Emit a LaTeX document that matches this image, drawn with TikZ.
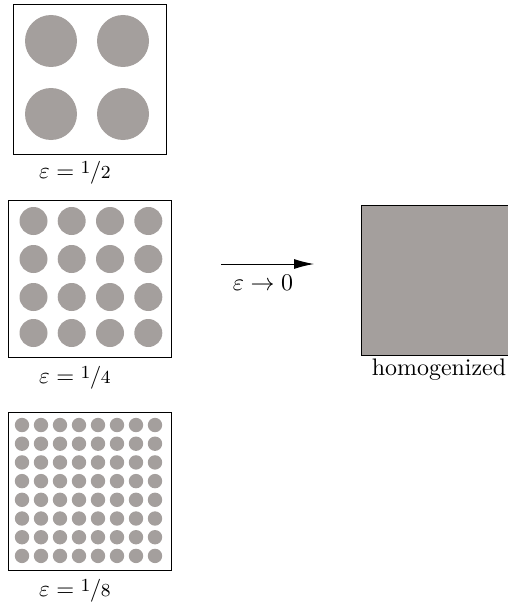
\documentclass[tikz,border=0pt]{standalone}
\usetikzlibrary{arrows.meta}
\definecolor{inclusion}{RGB}{164,159,157}
\newcommand{\myfrac}[2]{\mbox{\raisebox{0.2em}{\footnotesize #1}\kern-0.02em/\kern-0.02em{\footnotesize #2}}}
\begin{document}
\begin{tikzpicture}[x=1pt,y=-1pt,
  cell/.style={draw=black,line width=1pt},
  incl/.style={fill=inclusion},
  lab/.style={scale=2.3,transform shape,inner sep=0pt,anchor=base}]
\useasboundingbox (0,0) rectangle (507,602);
% box 1
\node[cell,minimum width=153pt,minimum height=149pt,inner sep=0pt] (b1) at (89.5,79.5) {};
\foreach \x in {51,123} \foreach \y in {41,114} \fill[incl] (\x,\y) circle (26);
\node[lab] (l1) at (75,178) {$\varepsilon = \myfrac{1}{2}$};
% box 2
\node[cell,minimum width=163pt,minimum height=157pt,inner sep=0pt] (b2) at (89.5,278.5) {};
\foreach \x in {33.5,71.7,110,148.3} \foreach \y in {221,259,297,333} \fill[incl] (\x,\y) circle (14);
\node[lab] (l2) at (75,383) {$\varepsilon = \myfrac{1}{4}$};
% box 3
\node[cell,minimum width=163pt,minimum height=158pt,inner sep=0pt] (b3) at (89.5,491.5) {};
\foreach \i in {0,...,7} \foreach \j in {0,...,7} \fill[incl] (22+19*\i,425+18.7*\j) circle (7.2);
\node[lab] (l3) at (75,596) {$\varepsilon = \myfrac{1}{8}$};
% arrow
\coordinate (a0) at (221,264);
\coordinate (a1) at (314,264);
\draw[line width=1pt,-{Latex[length=20pt,width=10pt]}] (a0) -- (a1);
\node[lab,scale=1.04] (la) at (263,290) {$\varepsilon \to 0$};
% homogenized
\node[cell,fill=inclusion,minimum width=150pt,minimum height=150pt,inner sep=0pt,anchor=north west] (h) at (361,204.5) {};
\node[lab,scale=1.04] (lh) at (439,375) {homogenized};
\end{tikzpicture}
\end{document}
